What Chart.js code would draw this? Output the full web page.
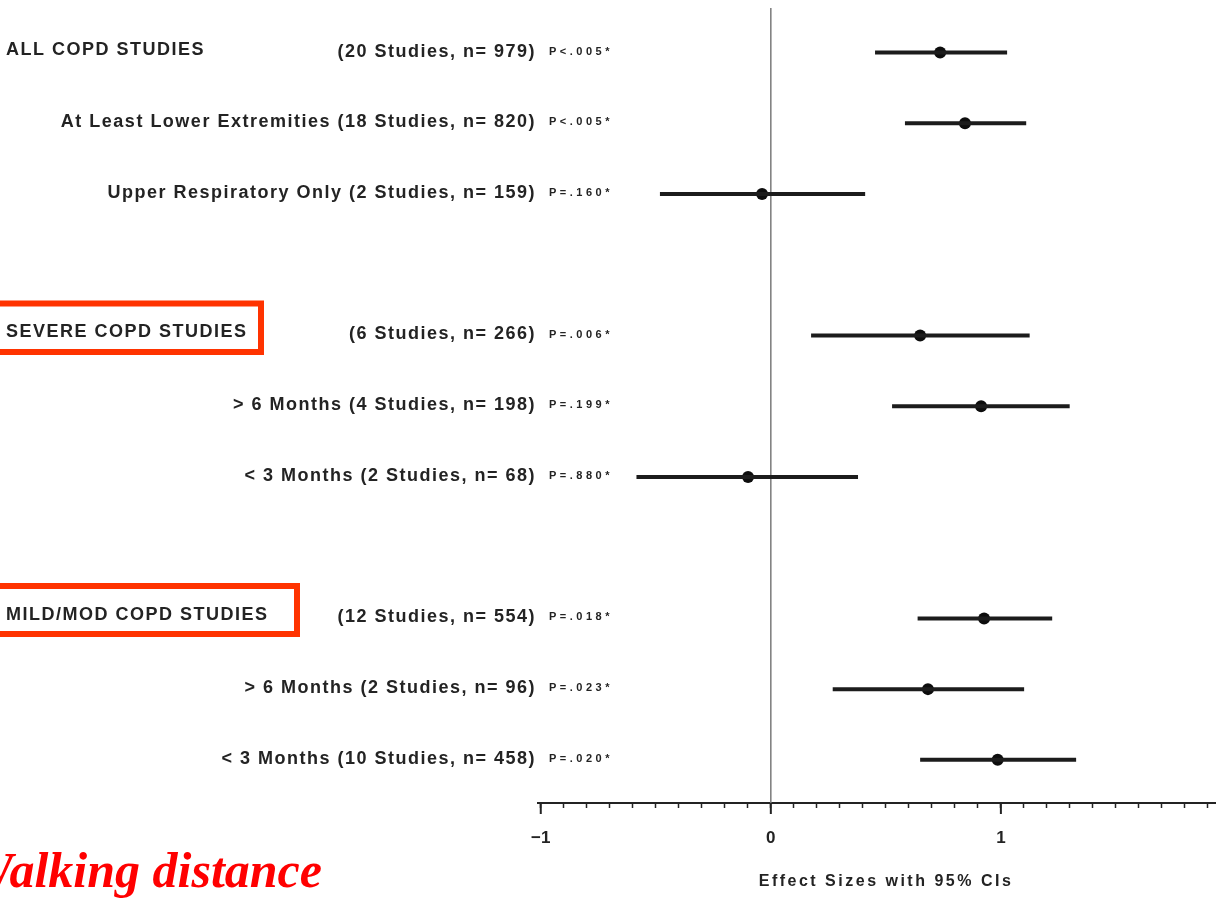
<!DOCTYPE html>
<html>
<head>
<meta charset="utf-8">
<title>Walking distance - effect sizes</title>
<script src="https://cdn.jsdelivr.net/npm/chart.js@4.4.1/dist/chart.umd.min.js"></script>
<style>
    html, body { margin: 0; padding: 0; background: #fff; }
    #wrap { width: 1216px; height: 901px; position: relative; }
</style>
</head>
<body>
<div id="wrap"><canvas id="forestChart" width="1216" height="901"></canvas></div>
<script>
// rows of the forest plot (top to bottom)
const rowLabels = ['ALL COPD STUDIES', 'At Least Lower Extremities', 'Upper Respiratory Only',
    'SEVERE COPD STUDIES', '> 6 Months', '< 3 Months',
    'MILD/MOD COPD STUDIES', '> 6 Months', '< 3 Months'];
const studyInfo = ['(20 Studies, n= 979)', '(18 Studies, n= 820)', '(2 Studies, n= 159)',
    '(6 Studies, n= 266)', '(4 Studies, n= 198)', '(2 Studies, n= 68)',
    '(12 Studies, n= 554)', '(2 Studies, n= 96)', '(10 Studies, n= 458)'];
const pValues = ['P<.005*', 'P<.005*', 'P=.160*', 'P=.006*', 'P=.199*', 'P=.880*', 'P=.018*', 'P=.023*', 'P=.020*'];
const headerRows = [0, 3, 6];
const rowPositions = [0, 1, 2, 4, 5, 6, 8, 9, 10];

// effect sizes with 95% CIs
const effectSizes = [0.736, 0.844, -0.038, 0.649, 0.914, -0.099, 0.927, 0.683, 0.986];
const ciLower = [0.453, 0.583, -0.482, 0.175, 0.527, -0.584, 0.638, 0.269, 0.649];
const ciUpper = [1.027, 1.110, 0.410, 1.125, 1.299, 0.379, 1.223, 1.101, 1.327];

// x axis
const xTickLabels = [-1, 0, 1];
const xMinorStep = 0.1;
const axisTitle = 'Effect Sizes with 95% CIs';
const sideNote = 'Walking distance';

const FONT = '"Liberation Sans", Arial, Helvetica, sans-serif';
const INK = '#232323';

// build error bar segments, separated by gaps
const ciSegments = [];
rowPositions.forEach((y, i) => {
    ciSegments.push({ x: ciLower[i], y: y });
    ciSegments.push({ x: ciUpper[i], y: y });
    ciSegments.push({ x: null, y: null });
});
const pointData = rowPositions.map((y, i) => ({ x: effectSizes[i], y: y }));

const forestDecor = {
    id: 'forestDecor',
    beforeDatasetsDraw(chart) {
        const { ctx, chartArea, scales } = chart;
        const x0 = scales.x.getPixelForValue(0);
        ctx.save();
        ctx.strokeStyle = '#7a7a7a';
        ctx.lineWidth = 1.5;
        ctx.beginPath();
        ctx.moveTo(x0, chartArea.top);
        ctx.lineTo(x0, chartArea.bottom);
        ctx.stroke();
        ctx.restore();
    },
    afterDraw(chart) {
        const { ctx, chartArea, scales } = chart;
        const ys = scales.y;
        ctx.save();

        // longer major ticks
        ctx.strokeStyle = INK;
        ctx.lineWidth = 2;
        xTickLabels.forEach(v => {
            const x = scales.x.getPixelForValue(v);
            ctx.beginPath();
            ctx.moveTo(x, chartArea.bottom);
            ctx.lineTo(x, chartArea.bottom + 11);
            ctx.stroke();
        });

        // row labels
        ctx.fillStyle = INK;
        ctx.textBaseline = 'middle';
        rowLabels.forEach((label, i) => {
            const y = ys.getPixelForValue(rowPositions[i]) - 1;
            ctx.font = 'bold 18px ' + FONT;
            ctx.letterSpacing = '1.5px';
            if (headerRows.includes(i)) {
                ctx.textAlign = 'left';
                ctx.fillText(label, 6, y - 2);
                ctx.textAlign = 'right';
                ctx.fillText(studyInfo[i], 536, y);
            } else {
                ctx.textAlign = 'right';
                ctx.fillText(label + ' ' + studyInfo[i], 536, y);
            }
            ctx.font = 'bold 11px ' + FONT;
            ctx.letterSpacing = '3.5px';
            ctx.textAlign = 'left';
            ctx.fillText(pValues[i], 549, y);
        });

        // red boxes round the group headers
        ctx.strokeStyle = '#ff3300';
        ctx.lineWidth = 6;
        ctx.strokeRect(-10, 303.5, 271, 48.5);
        ctx.strokeRect(-10, 586, 307, 48);

        // axis title
        ctx.fillStyle = INK;
        ctx.font = 'bold 16px ' + FONT;
        ctx.letterSpacing = '2.5px';
        ctx.textAlign = 'center';
        ctx.textBaseline = 'middle';
        ctx.fillText(axisTitle, 886, 882);

        // red caption
        ctx.letterSpacing = '0px';
        ctx.fillStyle = '#ff0000';
        ctx.font = 'italic bold 50px "Liberation Serif", "Times New Roman", serif';
        ctx.textAlign = 'right';
        ctx.textBaseline = 'alphabetic';
        ctx.fillText(sideNote, 322, 887);
        ctx.restore();
    }
};

const ctx = document.getElementById('forestChart').getContext('2d');
const forestChart = new Chart(ctx, {
    type: 'scatter',
    data: {
        datasets: [
            {
                label: '95% CI',
                data: ciSegments,
                showLine: true,
                spanGaps: false,
                borderColor: '#1c1c1c',
                borderWidth: 4,
                pointRadius: 0,
                pointHoverRadius: 0
            },
            {
                label: 'Effect size',
                data: pointData,
                pointRadius: 6,
                pointHoverRadius: 6,
                backgroundColor: '#0d0d0d',
                borderColor: '#0d0d0d',
                borderWidth: 0
            }
        ]
    },
    options: {
        responsive: false,
        animation: false,
        layout: { autoPadding: false, padding: { left: 538, top: 8, right: 0, bottom: 0 } },
        scales: {
            x: {
                type: 'linear',
                min: -1.012,
                max: 1.935,
                afterBuildTicks: scale => {
                    const ticks = [];
                    for (let v = -10; v <= 19; v++) ticks.push({ value: Math.round(v * xMinorStep * 10) / 10 });
                    scale.ticks = ticks;
                },
                afterFit: scale => {
                    scale.height = 98;
                    scale.paddingLeft = 0;
                    scale.paddingRight = 0;
                },
                border: { display: true, color: INK, width: 2 },
                grid: {
                    drawOnChartArea: false,
                    drawTicks: true,
                    tickLength: 5,
                    tickColor: INK,
                    tickWidth: 1.5
                },
                ticks: {
                    autoSkip: false,
                    maxRotation: 0,
                    padding: 20,
                    color: INK,
                    font: { family: FONT, size: 17, weight: 'bold' },
                    callback: value => xTickLabels.includes(Math.round(value * 10) / 10) && Math.abs(value - Math.round(value)) < 1e-6
                        ? (value < 0 ? '\u2212' + Math.abs(value) : String(value))
                        : ''
                }
            },
            y: {
                type: 'linear',
                display: false,
                reverse: true,
                min: -0.63,
                max: 10.61
            }
        },
        plugins: {
            legend: { display: false },
            tooltip: { enabled: false }
        }
    },
    plugins: [forestDecor]
});
</script>
</body>
</html>
